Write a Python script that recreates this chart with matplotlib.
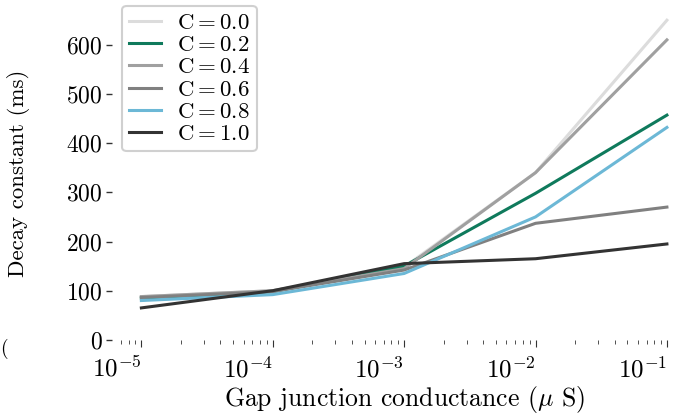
import matplotlib
matplotlib.use('Agg')
import matplotlib.pyplot as plt

# gap junction conductance (uS) and decay constants (ms) per C value
conductance = [1e-5, 1e-4, 1e-3, 1e-2, 1e-1]
c_labels = [r'$\mathrm{C}=0.0$', r'$\mathrm{C}=0.2$', r'$\mathrm{C}=0.4$',
            r'$\mathrm{C}=0.6$', r'$\mathrm{C}=0.8$', r'$\mathrm{C}=1.0$']
decay_c00 = [88, 100, 148, 340, 650]
decay_c02 = [85, 98, 150, 298, 457]
decay_c04 = [88, 100, 145, 340, 610]
decay_c06 = [86, 98, 142, 237, 270]
decay_c08 = [80, 92, 135, 250, 432]
decay_c10 = [65, 100, 155, 165, 195]
line_colors = ['#dcdcdc', '#0f7a5c', '#a0a0a0', '#808080', '#6cb8d6', '#333333']

plt.rcParams['font.family'] = 'cmr10'
plt.rcParams['mathtext.fontset'] = 'cm'
plt.rcParams['axes.formatter.use_mathtext'] = True
plt.rcParams['font.size'] = 16

fig = plt.figure(figsize=(6.73, 4.16), dpi=100)
ax = fig.add_axes([0.171, 0.183, 0.859, 0.803])

series = [decay_c00, decay_c02, decay_c04, decay_c06, decay_c08, decay_c10]
for vals, lab, col in zip(series, c_labels, line_colors):
    ax.plot(conductance, vals, color=col, lw=2.2, label=lab)

ax.set_xscale('log')
ax.set_ylim(0, ax.get_ylim()[1])

for s in ax.spines.values():
    s.set_visible(False)
ax.spines['left'].set_position(('outward', 2))

ax.tick_params(axis='y', length=4, width=1, pad=3, color='#333333', labelsize=17)
ax.tick_params(axis='x', which='major', length=5, width=0.8, pad=7, color='#333333',
               labelsize=18)
ax.tick_params(axis='x', which='minor', length=3, width=0.6, color='#333333')
for lbl in ax.get_xticklabels():
    lbl.set_horizontalalignment('right')

ax.set_xlabel(r'Gap junction conductance ($\mu$ S)', fontsize=18.5, labelpad=1)
ax.set_ylabel('Decay constant (ms)', fontsize=16.5)
ax.yaxis.set_label_coords(-0.148, 0.5)

leg = ax.legend(loc='upper left', bbox_to_anchor=(0.012, 1.0), borderaxespad=0,
                handlelength=1.4, handletextpad=0.7, labelspacing=0.1,
                borderpad=0.3, fancybox=True, framealpha=1, fontsize=16.5)
leg.get_frame().set_edgecolor('#d0d0d0')
leg.get_frame().set_linewidth(1.5)

fig.text(0.0, 0.15, '(', fontsize=14, ha='left')

fig.savefig('out.png', dpi=100)
